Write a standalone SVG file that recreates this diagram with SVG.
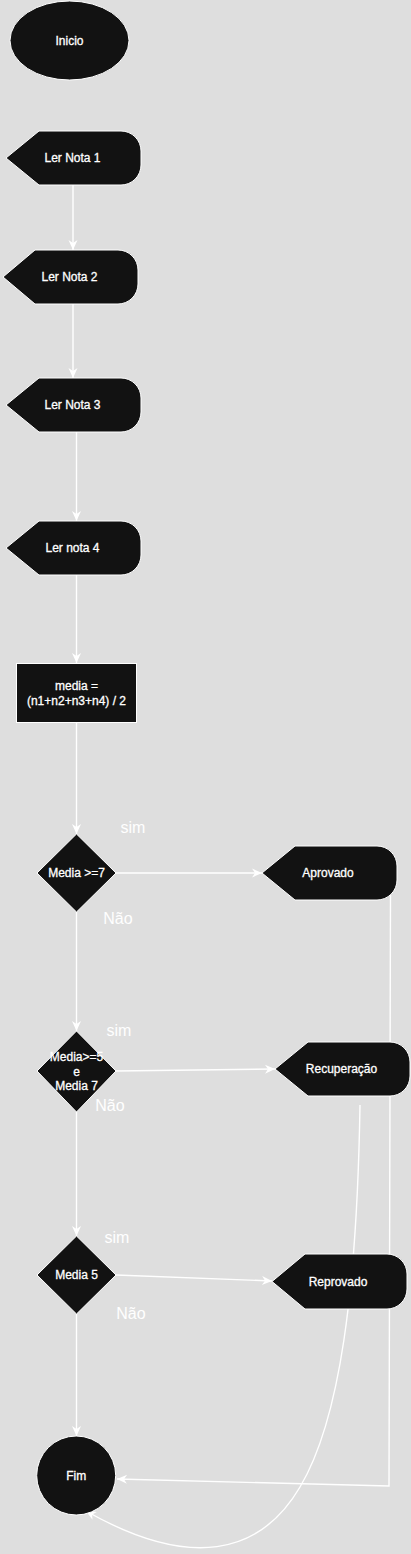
<svg xmlns="http://www.w3.org/2000/svg" width="411" height="1554" viewBox="0 0 411 1554">
<defs>
<style>
.node{fill:#121212;stroke:#ffffff;stroke-width:1}
.lbl{font-family:"Liberation Sans",Arial,sans-serif;font-size:12px;fill:#ffffff;text-anchor:middle;dominant-baseline:central;stroke:#ffffff;stroke-width:0.3}
.edge{fill:none;stroke:#ffffff;stroke-width:1.4}
.tag{font-family:"Liberation Sans",Arial,sans-serif;font-size:16px;fill:#ffffff;text-anchor:middle}
</style>
<marker id="arr" viewBox="0 0 10 10" refX="10" refY="5" markerWidth="11" markerHeight="10" markerUnits="userSpaceOnUse" orient="auto">
<path d="M0,0.5 L10,5 L0,9.5 L3,5 Z" fill="#ffffff"/>
</marker>
</defs>
<rect x="0" y="0" width="411" height="1554" fill="#dedede"/>

<g id="connectors">
<path class="edge" d="M73,185 L73,250" marker-end="url(#arr)"/>
<path class="edge" d="M73,304 L73,378" marker-end="url(#arr)"/>
<path class="edge" d="M76.5,432 L76.5,521" marker-end="url(#arr)"/>
<path class="edge" d="M76.5,575 L76.5,663" marker-end="url(#arr)"/>
<path class="edge" d="M76.5,723 L76.5,834" marker-end="url(#arr)"/>
<path class="edge" d="M116,873 L262,873" marker-end="url(#arr)"/>
<path class="edge" d="M76.5,912 L76.5,1031" marker-end="url(#arr)"/>
<path class="edge" d="M116,1071 L275,1069" marker-end="url(#arr)"/>
<path class="edge" d="M76.5,1112 L76.5,1236" marker-end="url(#arr)"/>
<path class="edge" d="M116,1275 L272,1281" marker-end="url(#arr)"/>
<path class="edge" d="M76.5,1314 L76.5,1436" marker-end="url(#arr)"/>
<path class="edge" d="M390.5,892 L389,1486 L117,1479" marker-end="url(#arr)"/>
<path class="edge" d="M360,1105 C357,1290 340,1420 300,1487 C260,1555 190,1570 86,1511" marker-end="url(#arr)"/>
</g>

<g id="inicio">
<ellipse class="node" cx="69.5" cy="40.5" rx="59.5" ry="39.5"/>
<text class="lbl" x="69.5" y="40.5">Inicio</text>
</g>
<g id="ler1">
<path class="node" d="M6,158 L39,131 L121,131 A20,20 0 0 1 141,151 L141,165 A20,20 0 0 1 121,185 L39,185 Z"/>
<text class="lbl" x="72.5" y="158">Ler Nota 1</text>
</g>
<g id="ler2">
<path class="node" d="M3,277 L35,250 L118,250 A20,20 0 0 1 138,270 L138,284 A20,20 0 0 1 118,304 L35,304 Z"/>
<text class="lbl" x="69.5" y="277">Ler Nota 2</text>
</g>
<g id="ler3">
<path class="node" d="M6,405 L39,378 L121,378 A20,20 0 0 1 141,398 L141,412 A20,20 0 0 1 121,432 L39,432 Z"/>
<text class="lbl" x="72.5" y="405">Ler Nota 3</text>
</g>
<g id="ler4">
<path class="node" d="M6,548 L39,521 L121,521 A20,20 0 0 1 141,541 L141,555 A20,20 0 0 1 121,575 L39,575 Z"/>
<text class="lbl" x="72.5" y="548">Ler nota 4</text>
</g>
<g id="media">
<rect class="node" x="16.5" y="663.5" width="120" height="59"/>
<text class="lbl" x="76.5" y="685.5">media =</text>
<text class="lbl" x="76.5" y="701">(n1+n2+n3+n4) / 2</text>
</g>
<g id="dec1">
<path class="node" d="M76.5,834 L116,873 L76.5,912 L37,873 Z"/>
<text class="lbl" x="76.5" y="873">Media &gt;=7</text>
</g>
<g id="aprovado">
<path class="node" d="M262,873 L295,846 L377,846 A20,20 0 0 1 397,866 L397,880 A20,20 0 0 1 377,900 L295,900 Z"/>
<text class="lbl" x="328" y="873">Aprovado</text>
</g>
<g id="dec2">
<path class="node" d="M76.5,1031 L116,1071 L76.5,1112 L37,1071 Z"/>
<text class="lbl" x="76.5" y="1056.5">Media&gt;=5</text>
<text class="lbl" x="76.5" y="1071.5">e</text>
<text class="lbl" x="76.5" y="1086">Media 7</text>
</g>
<g id="recuperacao">
<path class="node" d="M275,1069 L308,1042 L390,1042 A20,20 0 0 1 410,1062 L410,1076 A20,20 0 0 1 390,1096 L308,1096 Z"/>
<text class="lbl" x="341.5" y="1069">Recuperação</text>
</g>
<g id="dec3">
<path class="node" d="M76.5,1236 L116,1275 L76.5,1314 L37,1275 Z"/>
<text class="lbl" x="76.5" y="1274.5">Media 5</text>
</g>
<g id="reprovado">
<path class="node" d="M272,1281.5 L305,1254 L387,1254 A20,20 0 0 1 407,1274 L407,1289 A20,20 0 0 1 387,1309 L305,1309 Z"/>
<text class="lbl" x="338" y="1281.5">Reprovado</text>
</g>
<g id="fim">
<circle class="node" cx="76.2" cy="1475.5" r="39.5"/>
<text class="lbl" x="76.2" y="1475.5">Fim</text>
</g>

<g id="edge-labels">
<text class="tag" x="133" y="833">sim</text>
<text class="tag" x="118" y="924">Não</text>
<text class="tag" x="119" y="1036">sim</text>
<text class="tag" x="110" y="1111">Não</text>
<text class="tag" x="117" y="1243">sim</text>
<text class="tag" x="131" y="1319">Não</text>
</g>
</svg>
